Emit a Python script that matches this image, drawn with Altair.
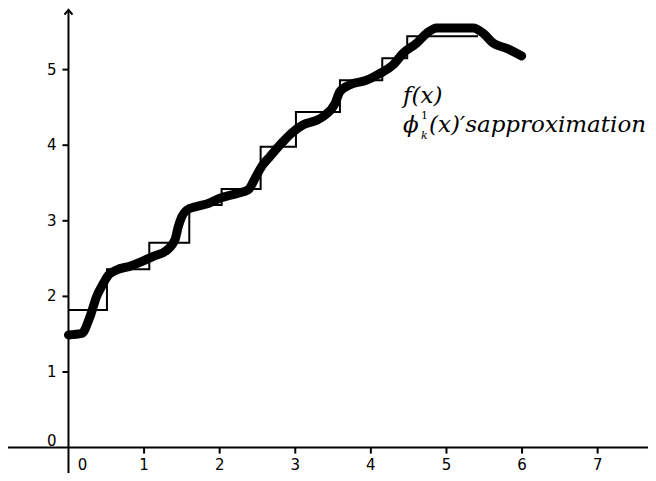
import altair as alt
import pandas as pd

# ---- data ----
# thick curve f(x)
fx = [0.0, 0.175, 0.284, 0.373, 0.460, 0.526, 0.638, 0.813, 0.968, 1.122, 1.299, 1.409,
      1.452, 1.497, 1.563, 1.696, 1.849, 2.004, 2.225, 2.378, 2.467, 2.556, 2.665, 2.841,
      2.952, 3.106, 3.283, 3.370, 3.525, 3.591, 3.724, 3.944, 4.120, 4.292, 4.429, 4.606,
      4.738, 4.870, 5.354, 5.487, 5.619, 5.796, 5.995]
fy = [1.49, 1.51, 1.73, 2.00, 2.17, 2.28, 2.35, 2.40, 2.46, 2.53, 2.61, 2.75,
      2.92, 3.05, 3.14, 3.19, 3.23, 3.30, 3.36, 3.41, 3.56, 3.72, 3.85, 4.05,
      4.16, 4.27, 4.33, 4.38, 4.55, 4.71, 4.80, 4.86, 4.95, 5.06, 5.22, 5.35,
      5.48, 5.55, 5.55, 5.48, 5.35, 5.28, 5.18]

# step approximation: interval edges and constant values
step_edges = [0.0, 0.509, 1.069, 1.598, 2.026, 2.542, 3.009, 3.591, 4.151, 4.481, 5.417]
step_values = [1.82, 2.36, 2.71, 3.21, 3.42, 3.98, 4.44, 4.86, 5.15, 5.44]

# axis ticks
x_ticks = [1, 2, 3, 4, 5, 6, 7]
y_ticks = [1, 2, 3, 4, 5]

# view window
X_MIN, X_MAX = -0.800, 7.666
Y_MIN, Y_MAX = -0.336, 5.815
ARROW_Y = 5.79

# legend text anchors (data units)
LEG_X = 4.425
LEG_Y1 = 4.56
LEG_Y2 = 4.17

curve = pd.DataFrame({"x": fx, "y": fy})
steps = pd.DataFrame({"x": step_edges, "y": step_values + [step_values[-1]]})
xt = pd.DataFrame({"x": x_ticks, "y": [0] * len(x_ticks), "t": [str(v) for v in x_ticks]})
yt = pd.DataFrame({"x": [0] * len(y_ticks), "y": y_ticks, "t": [str(v) for v in y_ticks]})
origin = pd.DataFrame({"x": [0], "y": [0], "t": ["0"]})
xaxis = pd.DataFrame({"x": [X_MIN], "x2": [X_MAX], "y": [0]})
yaxis = pd.DataFrame({"x": [0], "y": [Y_MIN], "y2": [ARROW_Y]})
arrow = pd.DataFrame({"x": [0], "y": [ARROW_Y]})
leg1 = pd.DataFrame({"x": [LEG_X], "y": [LEG_Y1]})
leg2 = pd.DataFrame({"x": [LEG_X], "y": [LEG_Y2]})

xs = alt.Scale(domain=[X_MIN, X_MAX], nice=False, zero=False)
ys = alt.Scale(domain=[Y_MIN, Y_MAX], nice=False, zero=False)
X = alt.X("x:Q", scale=xs, axis=None)
Y = alt.Y("y:Q", scale=ys, axis=None)

AX_FONT = "DejaVu Sans"
AX_SIZE = 15
MATH_FONT = "'DejaVu Serif', serif"
MATH_SIZE = 23

layers = [
    alt.Chart(xaxis).mark_rule(color="black", strokeWidth=2).encode(x=X, x2="x2:Q", y=Y),
    alt.Chart(yaxis).mark_rule(color="black", strokeWidth=2).encode(x=X, y=Y, y2="y2:Q"),
    alt.Chart(arrow).mark_point(shape="M-1,1.2L0,0L1,1.2", size=64, filled=False,
                                color="black", strokeWidth=2, opacity=1).encode(x=X, y=Y),
    alt.Chart(xt).mark_tick(orient="vertical", size=6, thickness=2, color="black",
                            yOffset=3, opacity=1).encode(x=X, y=Y),
    alt.Chart(yt).mark_tick(orient="horizontal", size=6, thickness=2, color="black",
                            xOffset=-3, opacity=1).encode(x=X, y=Y),
    alt.Chart(xt).mark_text(font=AX_FONT, fontSize=AX_SIZE, dy=17, baseline="middle",
                            align="center", color="black").encode(x=X, y=Y, text="t:N"),
    alt.Chart(yt).mark_text(font=AX_FONT, fontSize=AX_SIZE, dx=-12, baseline="middle",
                            align="right", color="black").encode(x=X, y=Y, text="t:N"),
    alt.Chart(origin).mark_text(font=AX_FONT, fontSize=AX_SIZE, dx=14, dy=17,
                                baseline="middle", align="center", color="black").encode(x=X, y=Y, text="t:N"),
    alt.Chart(origin).mark_text(font=AX_FONT, fontSize=AX_SIZE, dx=-12, dy=-7,
                                baseline="middle", align="right", color="black").encode(x=X, y=Y, text="t:N"),
    alt.Chart(steps).mark_line(interpolate="step-after", color="black", strokeWidth=2).encode(x=X, y=Y),
    alt.Chart(curve).mark_line(interpolate="monotone", color="black", strokeWidth=9,
                               strokeCap="round", strokeJoin="round").encode(x=X, y=Y),
    alt.Chart(leg1).mark_text(text="f(x)", font=MATH_FONT, fontStyle="italic", fontSize=MATH_SIZE,
                              align="left", baseline="alphabetic", color="black").encode(x=X, y=Y),
    alt.Chart(leg2).mark_text(text="ϕ", font=MATH_FONT, fontStyle="italic", fontSize=MATH_SIZE,
                              align="left", baseline="alphabetic", color="black").encode(x=X, y=Y),
    alt.Chart(leg2).mark_text(text="1", font=MATH_FONT, fontSize=11, dx=18, dy=-13,
                              align="left", baseline="alphabetic", color="black").encode(x=X, y=Y),
    alt.Chart(leg2).mark_text(text="k", font=MATH_FONT, fontStyle="italic", fontSize=11, dx=18, dy=7,
                              align="left", baseline="alphabetic", color="black").encode(x=X, y=Y),
    alt.Chart(leg2).mark_text(text="(x)′sapproximation", font=MATH_FONT, fontStyle="italic",
                              fontSize=MATH_SIZE, dx=26, align="left", baseline="alphabetic",
                              color="black").encode(x=X, y=Y),
]

chart = alt.layer(*layers).properties(
    width=640, height=465,
    autosize=alt.AutoSizeParams(type="none"),
    padding=0,
    background="white",
).configure_view(stroke=None)

chart.save("out.html", embed_options={"renderer": "svg", "actions": False})
